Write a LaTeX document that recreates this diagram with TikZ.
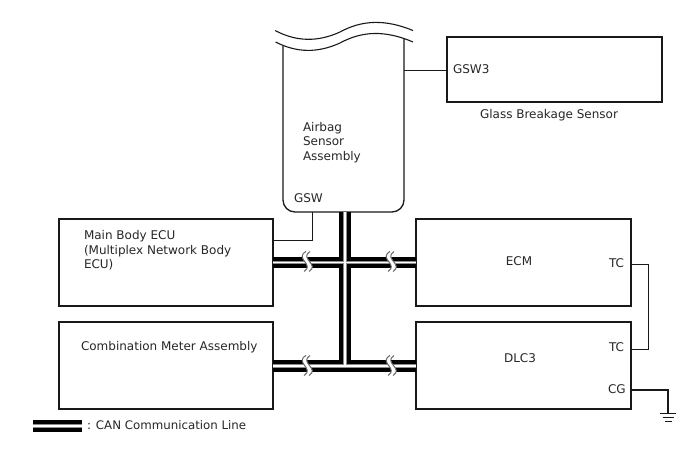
\documentclass[tikz,border=0pt]{standalone}
\usepackage{fontspec}
\setmainfont{DejaVu Sans}
\usepackage{tikz}

\newcommand{\busbreak}[2]{
\fill [white] (#1,#2-10) .. controls (#1-12,#2-3) and (#1+9,#2+3) .. (#1-2,#2+10) -- (#1+3,#2+10) .. controls (#1+14,#2+3) and (#1-7,#2-3) .. (#1+4,#2-10) -- cycle;
\draw [wavegray] (#1,#2-10) .. controls (#1-12,#2-3) and (#1+9,#2+3) .. (#1-2,#2+10);
\draw [wavegray] (#1+4,#2-10) .. controls (#1-7,#2-3) and (#1+14,#2+3) .. (#1+3,#2+10);
}

\begin{document}
\begin{tikzpicture}[x=1pt,y=-1pt]
\tikzstyle{every node}+=[inner sep=0pt,outer sep=0pt,font=\fontsize{12}{14.5}\selectfont,text=black!85]
\tikzstyle{thinbox}=[draw=black!90,line width=1.3pt,minimum width=214pt,minimum height=87pt]
\tikzstyle{thickbox}=[draw=black!90,line width=2.2pt,minimum width=215pt,minimum height=87pt]
\tikzstyle{wire}=[black!90,line width=1.1pt]
\tikzstyle{busouter}=[black,line width=11.5pt]
\tikzstyle{busgray}=[black!45,line width=3.2pt]
\tikzstyle{businner}=[white,line width=1.6pt]
\tikzstyle{wavegray}=[black!60,line width=1pt]
\useasboundingbox (0,0) rectangle (688,463);

% control units
\node [thinbox] (mainbody) at (166,262.5) {};
\node [thinbox] (combmeter) at (166,365.5) {};
\node [thickbox] (ecm) at (523.5,262.5) {};
\node [thickbox] (dlc) at (523.5,365.5) {};
\node [thickbox,minimum height=65pt] (glass) at (554.5,69.5) {};
\node [minimum width=121pt,minimum height=174pt] (airbag) at (343.5,125) {};

% airbag outline, cut off at the top
\draw [wire,line width=1.3pt,rounded corners=12pt] (airbag.west |- 0,46) -- (airbag.south west) -- (airbag.south east) -- (airbag.east |- 0,38);
\draw [black!90,line width=1.1pt] (275,30.5) .. controls (297,42) and (318,42) .. (340,32) .. controls (362,20) and (385,19) .. (413,30.5);
\draw [black!90,line width=1.1pt] (275.5,42) .. controls (297,53) and (318,53) .. (340,43) .. controls (362,31) and (385,30) .. (413,42);

% CAN bus
\coordinate (jointop) at (345,262.5);
\coordinate (joinbot) at (345,366);
\draw [busouter] (mainbody.east |- jointop) -- (ecm.west |- jointop);
\draw [busouter] (combmeter.east |- joinbot) -- (dlc.west |- joinbot);
\draw [busouter] (airbag.south -| jointop) -- (joinbot);
\draw [busgray] (mainbody.east |- jointop) -- (ecm.west |- jointop);
\draw [busgray] (combmeter.east |- joinbot) -- (dlc.west |- joinbot);
\draw [busgray] (airbag.south -| jointop) -- (joinbot);
\draw [businner] (mainbody.east |- jointop) -- (ecm.west |- jointop);
\draw [businner] (combmeter.east |- joinbot) -- (dlc.west |- joinbot);
\draw [businner] (airbag.south -| jointop) -- (joinbot);
\foreach \xbreak in {306,390} {
\busbreak{\xbreak}{261.5}
\busbreak{\xbreak}{365.5}
}

% signal wires
\coordinate (gswdrop) at (312.5,240.5);
\coordinate (tcrise) at (648.5,264.5);
\coordinate (tcdrop) at (648.5,349.5);
\coordinate (cgcorner) at (668,390);
\coordinate (gndtop) at (668,413);
\draw [wire] (airbag.east |- 0,70.5) -- (glass.west |- 0,70.5);
\draw [wire] (airbag.south -| gswdrop) -- (gswdrop) -- (mainbody.east |- gswdrop);
\draw [wire] (ecm.east |- tcrise) -- (tcrise) -- (tcdrop) -- (dlc.east |- tcdrop);
\draw [wire,line width=1.6pt] (dlc.east |- cgcorner) -- (cgcorner) -- (gndtop);

% ground symbol
\draw [wire,line width=1.8pt] (660,413.5) -- (676,413.5);
\draw [wire,line width=1.6pt] (662.5,417.5) -- (673.5,417.5);
\draw [wire,line width=1.4pt] (664.5,421.5) -- (671.5,421.5);

% labels
\node [anchor=west] (gswthree) at (453,69) {GSW3};
\node (glasslabel) at (549,115) {Glass Breakage Sensor};
\node [anchor=north west,align=left] (airbaglabel) at (303,122) {Airbag\\Sensor\\Assembly};
\node [anchor=west] (gswlabel) at (294,198.5) {GSW};
\node [anchor=north west,align=left] (mainlabel) at (84,230.5) {Main Body ECU\\(Multiplex Network Body\\ECU)};
\node [anchor=west] (comblabel) at (81,347) {Combination Meter Assembly};
\node (ecmlabel) at (519,261) {ECM};
\node (dlclabel) at (520,358) {DLC3};
\node [anchor=west] (tcupper) at (609,263) {TC};
\node [anchor=west] (tclower) at (609,347.5) {TC};
\node [anchor=west] (cglabel) at (608,389) {CG};

% legend
\coordinate (legleft) at (33,426);
\coordinate (legright) at (82,426);
\draw [busouter] (legleft) -- (legright);
\draw [busgray] (legleft) -- (legright);
\draw [businner] (legleft) -- (legright);
\node [anchor=west,font=\fontsize{11.8}{14.5}\selectfont] (leglabel) at (87,425) {: CAN Communication Line};
\end{tikzpicture}
\end{document}
